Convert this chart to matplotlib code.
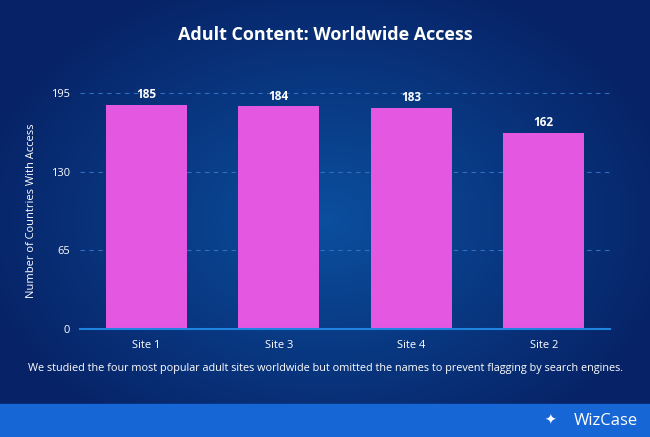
import numpy as np
from matplotlib import pyplot as plt
from matplotlib.patches import Rectangle

plt.rcParams['font.family'] = ['Open Sans', 'DejaVu Sans']

sites = ['Site 1', 'Site 3', 'Site 4', 'Site 2']
countries = [185, 184, 183, 162]
yticks = [0, 65, 130, 195]

fig = plt.figure(figsize=(6.5, 4.37), dpi=100)

# radial gradient background
bg = fig.add_axes([0, 0, 1, 1], zorder=0)
yy, xx = np.mgrid[0:437, 0:650]
r = np.sqrt(((xx - 325) / 360) ** 2 + ((yy - 220) / 260) ** 2)
r = np.clip(r, 0, 1)[..., None]
inner = np.array([0x0b, 0x4f, 0x9e]) / 255
outer = np.array([0x07, 0x22, 0x66]) / 255
img = inner * (1 - r) + outer * r
bg.imshow(img, extent=[0, 650, 437, 0], aspect='auto')
bg.add_patch(Rectangle((0, 404), 650, 33, color='#1766d6'))
bg.text(638, 421, 'WizCase', color='white', fontsize=12, ha='right', va='center')
bg.text(550, 421, '\u2726', color='white', fontsize=10, ha='center', va='center',
        family=['DejaVu Sans'])
bg.set_xlim(0, 650)
bg.set_ylim(437, 0)
bg.axis('off')

ax = fig.add_axes([80 / 650, 108 / 437, 530 / 650, 236 / 437], zorder=1)
ax.patch.set_alpha(0)
x = np.arange(len(sites))
bars = ax.bar(x, countries, width=0.61, color='#e457e0', zorder=3)
for xi, v in zip(x, countries):
    ax.text(xi, v + 3, str(v), color='white', fontsize=8.5, fontweight='bold',
            ha='center', va='bottom')

ax.set_xlim(-0.5, len(sites) - 0.5)
ax.set_ylim(0, 195)
ax.set_xticks(x)
ax.set_xticklabels(sites)
ax.set_yticks(yticks)
for t in yticks[1:]:
    ax.axhline(t, color='#2f6fc0', linestyle=(0, (4, 4)), linewidth=0.8, zorder=1, clip_on=False)
ax.axhline(0, color='#1f83e0', linewidth=1.5, zorder=4, clip_on=False)
ax.tick_params(axis='x', colors='white', labelsize=8, length=0, pad=8)
ax.tick_params(axis='y', colors='white', labelsize=8, length=0, pad=7)
for s in ax.spines.values():
    s.set_visible(False)
ax.set_ylabel('Number of Countries With Access', color='white', fontsize=8, labelpad=10)

fig.text(0.5, 1 - 35 / 437, 'Adult Content: Worldwide Access', color='white',
         fontsize=13, fontweight='bold', ha='center', va='center')
fig.text(0.5, 1 - 368 / 437,
         'We studied the four most popular adult sites worldwide but omitted the names to prevent flagging by search engines.',
         color='white', fontsize=7.8, ha='center', va='center')

fig.savefig('out.png', dpi=100)
